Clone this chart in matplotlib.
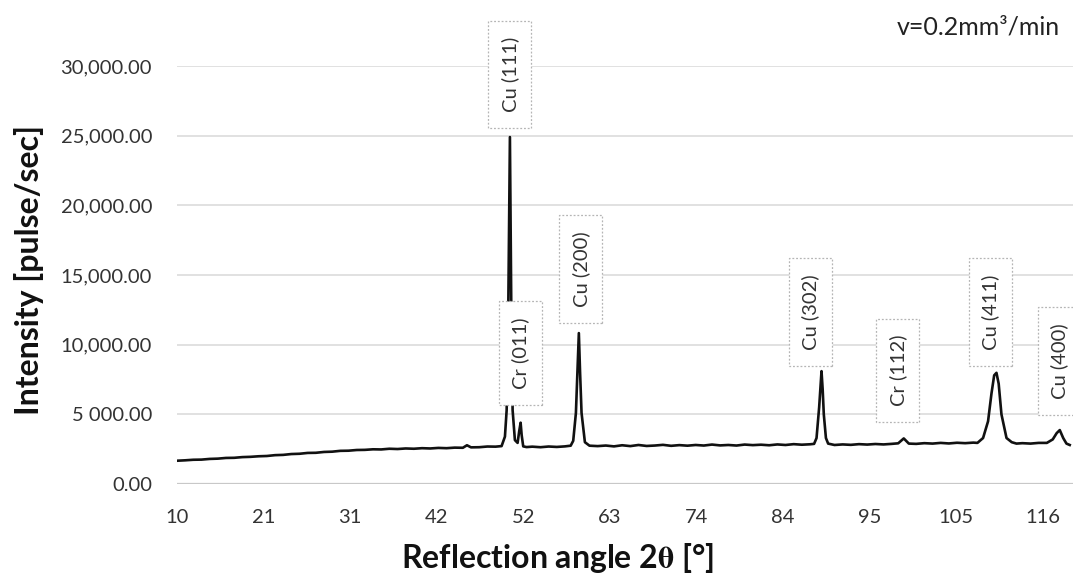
import matplotlib
matplotlib.use("Agg")
import matplotlib.pyplot as plt
from matplotlib.path import Path

plt.rcParams['font.family'] = ['Lato', 'DejaVu Sans']
plt.rcParams['mathtext.fontset'] = 'stix'

# ---- data ----
two_theta = [
    10.0, 11.0, 12.0, 13.0, 14.0, 15.0, 16.0, 17.0, 18.0, 19.0,
    20.0, 21.0, 22.0, 23.0, 24.0, 25.0, 26.0, 27.0, 28.0, 29.0,
    30.0, 31.0, 32.0, 33.0, 34.0, 35.0, 36.0, 37.0, 38.0, 39.0,
    40.0, 41.0, 42.0, 43.0, 44.0, 45.0, 45.5, 46.0, 47.0, 48.0,
    49.0, 49.74, 50.15, 50.36, 50.55, 50.76, 50.95, 51.09, 51.37, 51.70,
    51.9, 52.07, 52.2, 52.39, 52.8, 53.5, 54.5, 55.5, 56.5, 57.5,
    58.2, 58.51, 58.84, 59.05, 59.20, 59.35, 59.53, 59.94, 60.5, 61.5,
    62.5, 63.5, 64.5, 65.5, 66.5, 67.5, 68.5, 69.5, 70.5, 71.5,
    72.5, 73.5, 74.5, 75.5, 76.5, 77.5, 78.5, 79.5, 80.5, 81.5,
    82.5, 83.5, 84.5, 85.5, 86.5, 87.5, 88.0, 88.30, 88.62, 88.78,
    88.91, 89.05, 89.19, 89.45, 89.72, 90.5, 91.5, 92.5, 93.5, 94.5,
    95.5, 96.5, 97.5, 98.3, 98.98, 99.6, 100.5, 101.5, 102.5, 103.5,
    104.5, 105.5, 106.5, 107.5, 108.0, 108.69, 109.30, 109.72, 110.05, 110.33,
    110.6, 110.94, 111.56, 112.2, 112.78, 113.5, 114.5, 115.5, 116.5, 117.22,
    117.7, 118.08, 118.5, 118.90, 119.30,
]
intensity = [
    1670, 1700, 1740, 1750, 1800, 1820, 1870, 1880, 1930, 1950,
    1990, 2010, 2070, 2090, 2150, 2170, 2230, 2240, 2300, 2320,
    2380, 2390, 2440, 2450, 2490, 2480, 2530, 2510, 2550, 2530,
    2570, 2550, 2590, 2570, 2610, 2600, 2780, 2630, 2640, 2690,
    2680, 2720, 3400, 5300, 12000, 24900, 11000, 5300, 3150, 2950,
    3800, 4400, 3500, 2700, 2650, 2680, 2640, 2690, 2660, 2700,
    2750, 3100, 5100, 8500, 10830, 8000, 5100, 3000, 2750, 2720,
    2760, 2700, 2780, 2720, 2800, 2730, 2760, 2810, 2740, 2790,
    2750, 2800, 2760, 2830, 2770, 2800, 2760, 2830, 2790, 2820,
    2780, 2840, 2800, 2860, 2820, 2850, 2880, 3300, 5500, 7000,
    8100, 6800, 5000, 3300, 2900, 2800, 2840, 2810, 2860, 2830,
    2870, 2840, 2880, 2920, 3270, 2900, 2880, 2930, 2900, 2950,
    2910, 2960, 2930, 2970, 2950, 3300, 4500, 6500, 7800, 7980,
    7200, 5000, 3300, 3000, 2900, 2930, 2900, 2950, 2950, 3200,
    3650, 3870, 3300, 2900, 2800,
]

peak_labels = ["Cu (111)", "Cr (011)", "Cu (200)", "Cu (302)", "Cr (112)", "Cu (411)", "Cu (400)"]
peak_angles = [50.76, 52.07, 59.20, 88.91, 98.98, 110.33, 118.08]
# label box centres (layout)
label_x = [50.76, 52.07, 59.44, 87.55, 98.25, 109.6, 118.0]
label_y = [29400, 9400, 15450, 12350, 8150, 12350, 8850]

x_ticks = [10, 20.6, 31.2, 41.8, 52.4, 63.0, 73.6, 84.2, 94.8, 105.4, 116.0]
x_tick_labels = ["10", "21", "31", "42", "52", "63", "74", "84", "95", "105", "116"]
y_ticks = [0, 5000, 10000, 15000, 20000, 25000, 30000]
y_tick_labels = ["0.00", "5 000.00", "10,000.00", "15,000.00", "20,000.00", "25,000.00", "30,000.00"]


def label_box(x0, y0, width, height, mutation_size):
    # separate padding along the text and across it (text frame)
    pa = 0.8 * mutation_size
    pc = 0.62 * mutation_size
    xa, xb = x0 - pa, x0 + width + pa
    ya, yb = y0 - pc, y0 + height + pc
    return Path([(xa, ya), (xb, ya), (xb, yb), (xa, yb), (xa, ya)], closed=True)


# ---- figure ----
W, H = 1073, 584
fig = plt.figure(figsize=(W / 100, H / 100), dpi=100)
ax = fig.add_axes([177 / W, 1 - 484 / H, 1 - 177 / W, (484 - 66) / H])

for yv in y_ticks:
    if yv == 0:
        ax.axhline(yv, color='#c8c8c8', lw=1.6, zorder=0)
    else:
        ax.axhline(yv, color='#d9d9d9', lw=1.1, zorder=0)

ax.plot(two_theta, intensity, color='#111111', lw=1.9, zorder=3)

for lab, lx, ly in zip(peak_labels, label_x, label_y):
    ax.text(lx, ly, lab, rotation=90, ha='center', va='center', fontsize=14.5,
            color='#333333', zorder=5, clip_on=False,
            bbox=dict(boxstyle=label_box, fc='white', ec='#b5b5b5',
                      lw=0.9, ls=(0, (1.5, 1.5))))

ax.set_xlim(10, 119.7)
ax.set_ylim(0, 30000)
ax.set_xticks(x_ticks)
ax.set_xticklabels(x_tick_labels)
ax.set_yticks(y_ticks)
ax.set_yticklabels(y_tick_labels)
ax.tick_params(axis='both', length=0, labelsize=14.5, colors='#333333')
ax.tick_params(axis='x', pad=18)
ax.tick_params(axis='y', pad=18)
for s in ax.spines.values():
    s.set_visible(False)

fig.text(29 / W, 1 - 270 / H, "Intensity [pulse/sec]", rotation=90, ha='center', va='center',
         fontsize=23, fontweight='bold', color='#111111')
fig.text(557 / W, 1 - 558 / H, r"Reflection angle 2$\mathbf{\theta}$ [°]", ha='center', va='center',
         fontsize=23, fontweight='bold', color='#111111')
fig.text(1060 / W, 1 - 27 / H, "v=0.2mm³/min", ha='right', va='center', fontsize=18, color='#222222')

fig.savefig("out.png", dpi=100)
